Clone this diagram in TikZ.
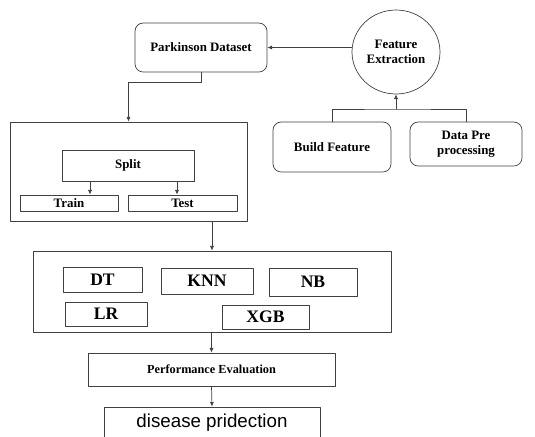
\documentclass[tikz,border=0pt]{standalone}
\usepackage{fontspec}
\setmainfont{Liberation Serif}
\newfontfamily\disfont{Liberation Sans}
\usetikzlibrary{arrows.meta,shapes.geometric}

\tikzset{
  box/.style={draw=black!75, rectangle, align=center, font=\fontsize{11}{13}\selectfont\bfseries},
  rbox/.style={box, rounded corners=7pt},
  algo/.style={box, font=\fontsize{15}{18}\selectfont\bfseries},
  link/.style={draw=black!75},
  arr/.style={link, -{Latex[length=4pt,width=3.5pt]}}
}

\begin{document}
\begin{tikzpicture}[
    x=0.03cm, y=-0.03cm,
    line cap=round,
    line join=round,
    line width=0.6pt,
    every node/.style={inner sep=1pt}
]
\useasboundingbox (0,0) rectangle (535,436);

% top row
\node[rbox, minimum width=3.96cm, minimum height=1.47cm] (data) at (201,47.5) {Parkinson Dataset};
\node[box, ellipse, minimum width=2.64cm, minimum height=2.52cm] (feat) at (396,52) {Feature\\Extraction};
\node[rbox, minimum width=3.54cm, minimum height=1.5cm] (build) at (332,147) {Build Feature};
\node[rbox, minimum width=3.36cm, minimum height=1.32cm] (pre) at (466,144) {Data Pre\\processing};
\coordinate (jn) at (396,109);

% split block
\node[box, minimum width=7.11cm, minimum height=2.97cm] (outer) at (128.5,171.5) {};
\node[box, minimum width=3.96cm, minimum height=0.93cm] (split) at (128,165.5) {Split};
\node[box, minimum width=2.94cm, minimum height=0.48cm] (train) at (69,203) {Train};
\node[box, minimum width=3.27cm, minimum height=0.48cm] (test) at (182.5,203) {Test};

% models
\node[box, minimum width=10.74cm, minimum height=2.43cm] (models) at (212,291.5) {};
\node[algo, minimum width=2.37cm, minimum height=0.75cm] (dt) at (102.5,279.5) {DT};
\node[algo, minimum width=2.76cm, minimum height=0.78cm] (knn) at (207,281) {KNN};
\node[algo, minimum width=2.64cm, minimum height=0.84cm] (nb) at (313,282) {NB};
\node[algo, minimum width=2.46cm, minimum height=0.72cm] (lr) at (106,314) {LR};
\node[algo, minimum width=2.61cm, minimum height=0.72cm] (xgb) at (265.5,317) {XGB};

% output
\node[box, font=\fontsize{10.5}{12}\selectfont\bfseries, minimum width=7.41cm, minimum height=0.99cm] (perf) at (211.5,369.5) {Performance Evaluation};
\node[box, font=\fontsize{16}{19}\disfont, minimum width=6.48cm, minimum height=0.96cm] (dis) at (212,423) {disease pridection};

% connectors
\draw[arr] (feat.west |- data.east) -- (data.east);
\draw[arr] (data.south) -- ++(0,10) -| (outer.north);
\draw[link] (build.north) |- (jn) -| (pre.north);
\draw[arr] (jn) -- (feat.south);
\draw[arr] ([xshift=-1.14cm]split.south) -- ([xshift=-1.14cm]split.south |- train.north);
\draw[arr] ([xshift=1.47cm]split.south) -- ([xshift=1.47cm]split.south |- test.north);
\draw[arr] (outer.south -| models.north) -- (models.north);
\draw[arr] (models.south -| perf.north) -- (perf.north);
\draw[arr] (perf.south) -- (dis.north);
\end{tikzpicture}
\end{document}
